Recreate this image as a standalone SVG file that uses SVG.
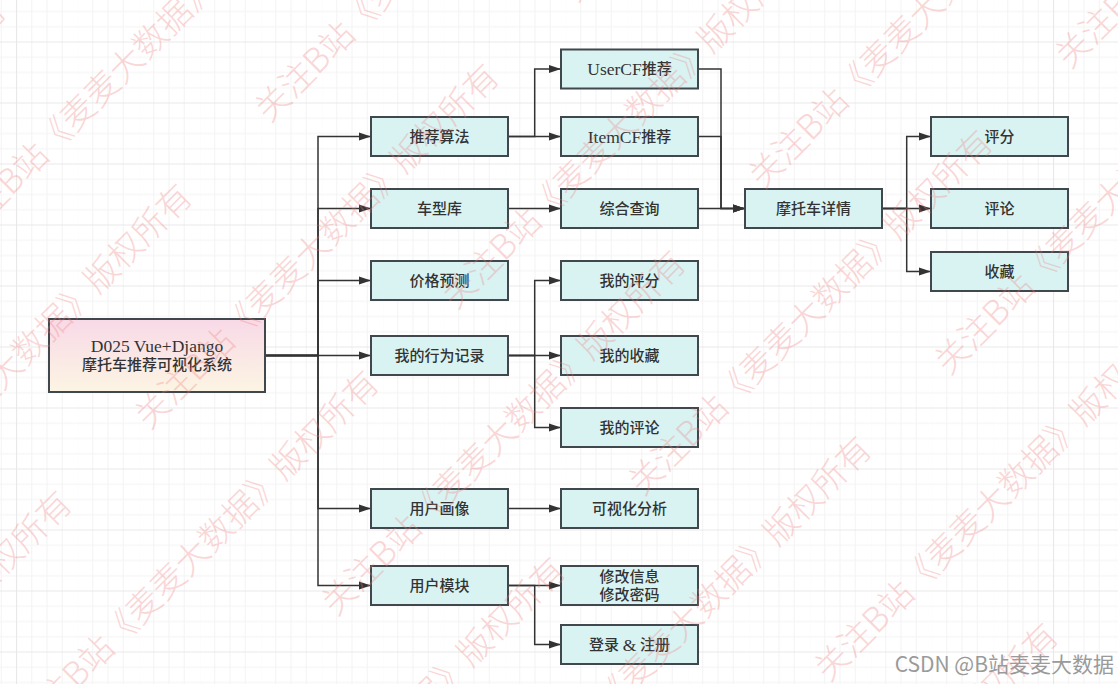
<svg xmlns="http://www.w3.org/2000/svg" width="1118" height="684" viewBox="0 0 1118 684">
<defs>
<pattern id="grid" patternUnits="userSpaceOnUse" x="16" y="41.5" width="61" height="61">
<path d="M15.75,0V61M31,0V61M46.25,0V61M0,15.75H61M0,31H61M0,46.25H61" stroke="#f3f3f3" stroke-width="1" fill="none"/>
<path d="M0.5,0V61M0,0.5H61" stroke="#e8e8e8" stroke-width="1.2" fill="none"/>
</pattern>
<linearGradient id="rootg" x1="0" y1="0" x2="0" y2="1">
<stop offset="0" stop-color="#f8d9e7"/>
<stop offset="1" stop-color="#fcf5e3"/>
</linearGradient>
<marker id="arr" markerUnits="userSpaceOnUse" markerWidth="13" markerHeight="9" refX="12" refY="4.5" orient="auto">
<path d="M0,0.5L12,4.5L0,8.5z" fill="#333"/>
</marker>
<style>
.n rect{fill:#d9f3f2;stroke:#40474d;stroke-width:2}
.n text{font-family:"Liberation Serif","Noto Sans CJK SC",serif;font-size:15px;font-weight:500;fill:#333;text-anchor:middle;dominant-baseline:central}
.n .lt{font-size:17.5px}
.e path{fill:none;stroke:#333;stroke-width:1.5;marker-end:url(#arr)}
.wm text{font-family:"Noto Sans CJK SC",sans-serif;font-size:34px;font-weight:300;fill:#f07c7c;opacity:0.3}
</style>
</defs>
<rect width="1118" height="684" fill="#fff"/>
<rect width="1118" height="684" fill="url(#grid)"/>

<g id="connectors" class="e">
<path d="M265,355.5H318V136.5H371"/>
<path d="M265,355.5H318V208.5H371"/>
<path d="M265,355.5H318V280.5H371"/>
<path d="M265,355.5H371"/>
<path d="M265,355.5H318V508.5H371"/>
<path d="M265,355.5H318V585.5H371"/>
<path d="M508,136.5H534.7V69H561"/>
<path d="M508,136.5H561"/>
<path d="M508,208.5H561"/>
<path d="M698,69H721V208.5H745"/>
<path d="M698,136.5H721V208.5H745"/>
<path d="M698,208.5H745"/>
<path d="M882,208.5H906.7V136.5H931"/>
<path d="M882,208.5H931"/>
<path d="M882,208.5H906.7V271.5H931"/>
<path d="M508,355.5H534.7V280.5H561"/>
<path d="M508,355.5H561"/>
<path d="M508,355.5H534.7V427.5H561"/>
<path d="M508,508.5H561"/>
<path d="M508,585.5H561"/>
<path d="M508,585.5H534.7V644.5H561"/>
</g>

<g id="root" class="n">
<rect x="49" y="319" width="216" height="73" style="fill:url(#rootg)"/>
<text x="157" y="346" style="font-size:17.5px">D025 Vue+Django</text>
<text x="157" y="365">摩托车推荐可视化系统</text>
</g>
<g id="n-tjsf" class="n"><rect x="371" y="117" width="137" height="39"/><text x="439.5" y="136.5">推荐算法</text></g>
<g id="n-cxk" class="n"><rect x="371" y="189" width="137" height="39"/><text x="439.5" y="208.5">车型库</text></g>
<g id="n-jgyc" class="n"><rect x="371" y="261" width="137" height="39"/><text x="439.5" y="280.5">价格预测</text></g>
<g id="n-wdxw" class="n"><rect x="371" y="336" width="137" height="39"/><text x="439.5" y="355.5">我的行为记录</text></g>
<g id="n-yhhx" class="n"><rect x="371" y="489" width="137" height="39"/><text x="439.5" y="508.5">用户画像</text></g>
<g id="n-yhmk" class="n"><rect x="371" y="566" width="137" height="39"/><text x="439.5" y="585.5">用户模块</text></g>

<g id="n-usercf" class="n"><rect x="561" y="49.5" width="137" height="39"/><text x="629.5" y="69"><tspan class="lt">UserCF</tspan>推荐</text></g>
<g id="n-itemcf" class="n"><rect x="561" y="117" width="137" height="39"/><text x="629.5" y="136.5"><tspan class="lt">ItemCF</tspan>推荐</text></g>
<g id="n-zhcx" class="n"><rect x="561" y="189" width="137" height="39"/><text x="629.5" y="208.5">综合查询</text></g>
<g id="n-wdpf" class="n"><rect x="561" y="261" width="137" height="39"/><text x="629.5" y="280.5">我的评分</text></g>
<g id="n-wdsc" class="n"><rect x="561" y="336" width="137" height="39"/><text x="629.5" y="355.5">我的收藏</text></g>
<g id="n-wdpl" class="n"><rect x="561" y="408" width="137" height="39"/><text x="629.5" y="427.5">我的评论</text></g>
<g id="n-kshfx" class="n"><rect x="561" y="489" width="137" height="39"/><text x="629.5" y="508.5">可视化分析</text></g>
<g id="n-xgxx" class="n"><rect x="561" y="566" width="137" height="39"/><text x="629.5" y="577">修改信息</text><text x="629.5" y="594.5">修改密码</text></g>
<g id="n-dlzc" class="n"><rect x="561" y="625" width="137" height="39"/><text x="629.5" y="644.5">登录 <tspan class="lt">&amp;</tspan> 注册</text></g>

<g id="n-mtcxq" class="n"><rect x="745" y="189" width="137" height="39"/><text x="813.5" y="208.5">摩托车详情</text></g>
<g id="n-pf" class="n"><rect x="931" y="117" width="137" height="39"/><text x="999.5" y="136.5">评分</text></g>
<g id="n-pl" class="n"><rect x="931" y="189" width="137" height="39"/><text x="999.5" y="208.5">评论</text></g>
<g id="n-sc" class="n"><rect x="931" y="252" width="137" height="39"/><text x="999.5" y="271.5">收藏</text></g>

<g id="watermark" class="wm" transform="rotate(-45)">
<text x="-501" y="15">关注B站《麦麦大数据》版权所有</text>
<text x="-199" y="147">关注B站《麦麦大数据》版权所有</text>
<text x="103" y="278">关注B站《麦麦大数据》版权所有</text>
<text x="-501" y="278">关注B站《麦麦大数据》版权所有</text>
<text x="-199" y="410">关注B站《麦麦大数据》版权所有</text>
<text x="405" y="410">关注B站《麦麦大数据》版权所有</text>
<text x="-803" y="410">关注B站《麦麦大数据》版权所有</text>
<text x="103" y="542">关注B站《麦麦大数据》版权所有</text>
<text x="-501" y="542">关注B站《麦麦大数据》版权所有</text>
<text x="-199" y="674">关注B站《麦麦大数据》版权所有</text>
<text x="405" y="674">关注B站《麦麦大数据》版权所有</text>
<text x="103" y="806">关注B站《麦麦大数据》版权所有</text>
<text x="707" y="806">关注B站《麦麦大数据》版权所有</text>
<text x="-501" y="806">关注B站《麦麦大数据》版权所有</text>
<text x="-199" y="937">关注B站《麦麦大数据》版权所有</text>
<text x="405" y="937">关注B站《麦麦大数据》版权所有</text>
<text x="103" y="1069">关注B站《麦麦大数据》版权所有</text>
<text x="-199" y="1201">关注B站《麦麦大数据》版权所有</text>
<text x="405" y="1201">关注B站《麦麦大数据》版权所有</text>
</g>

<text x="1114" y="672" style="font-family:'Noto Sans CJK SC','Noto Sans',sans-serif;font-size:21px;fill:#9a9a9a;text-anchor:end">CSDN @B站麦麦大数据</text>
</svg>
